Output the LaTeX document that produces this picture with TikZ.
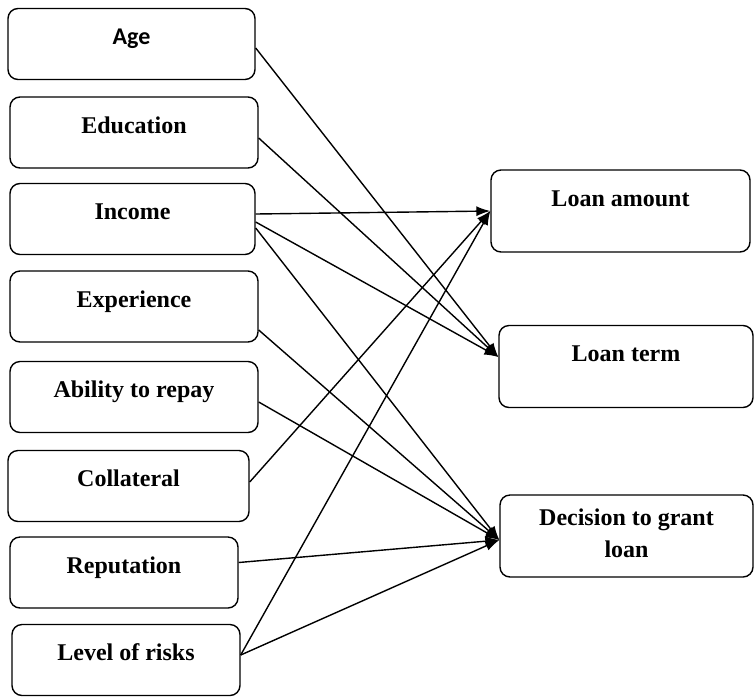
\documentclass[tikz,border=0pt]{standalone}
\usepackage{fontspec}
\setmainfont{Liberation Serif}
\newfontfamily\labelsans{Carlito}
\usetikzlibrary{arrows.meta, calc}

\begin{document}
\begin{tikzpicture}[x=0.5pt, y=-0.5pt,
  factor/.style={draw, line width=0.7pt, rounded corners=5pt, minimum width=123pt, minimum height=35.5pt, inner sep=0pt, font=\fontsize{12}{14}\selectfont\bfseries, text depth=7.5pt},
  outcome/.style={factor, minimum width=127pt, minimum height=41pt, text depth=12.5pt, align=center},
  link/.style={-{Latex[length=7pt,width=5pt]}, line width=0.7pt}]
\useasboundingbox (0,0) rectangle (754,697);

% determinants
\node[factor, minimum width=123.5pt] (age) at (131.5,44) {\labelsans Age};
\node[factor, minimum width=124pt] (education) at (134,132.5) {Education};
\node[factor, minimum width=122.5pt] (income) at (132.5,219) {Income};
\node[factor, minimum width=124pt] (experience) at (134,306.5) {Experience};
\node[factor, minimum width=124pt] (ability) at (134,397) {Ability to repay};
\node[factor, minimum width=120.5pt] (collateral) at (128.5,486) {Collateral};
\node[factor, minimum width=114pt] (reputation) at (124,572.5) {Reputation};
\node[factor, minimum width=114pt] (risk) at (126,660) {Level of risks};

% loan outcomes
\node[outcome, minimum width=129.5pt] (amount) at (620.5,211) {Loan amount};
\node[outcome] (term) at (626,366.5) {Loan term};
\node[outcome, minimum width=126.5pt, text depth=3pt, font=\fontsize{12}{16}\selectfont\bfseries] (decision) at (626.5,536) {Decision to grant\\loan};

\coordinate (amountin) at (amount.west);
\coordinate (termin) at ([yshift=4.75pt]term.west);
\coordinate (decin) at ([yshift=-2pt]decision.west);

\draw[link] ([yshift=-2pt]age.east) -- (termin);
\draw[link] ([yshift=-2.75pt]education.east) -- (termin);
\draw[link] ([yshift=2.5pt]income.east) -- (amountin);
\draw[link] ([yshift=-1.5pt]income.east) -- (termin);
\draw[link] ([yshift=-4.5pt]income.east) -- (decin);
\draw[link] ([yshift=-11.75pt]experience.east) -- (decin);
\draw[link] ([yshift=-2.5pt]ability.east) -- (decin);
\draw[link] ([yshift=2pt]collateral.east) -- (amountin);
\draw[link] ([yshift=5pt]reputation.east) -- (decin);
\draw[link] ([yshift=2.5pt]risk.east) -- (decin);
\draw[link] ([yshift=2.5pt]risk.east) -- (amountin);
\end{tikzpicture}
\end{document}
